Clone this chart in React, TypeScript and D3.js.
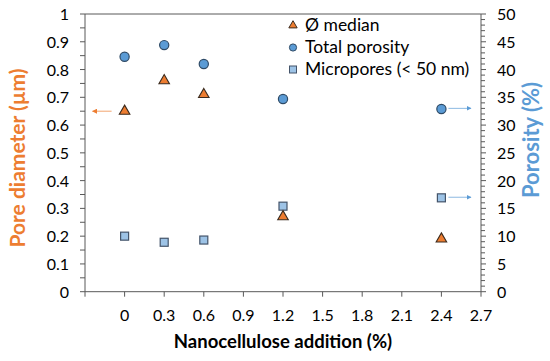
import React from "react";
import * as d3 from "d3";

const xValues = [0, 0.3, 0.6, 1.2, 2.4];
const medianDiameter = [0.65, 0.76, 0.71, 0.27, 0.19];
const totalPorosity = [42.3, 44.4, 41.0, 34.7, 32.9];
const micropores = [10.0, 8.9, 9.3, 15.4, 16.9];
const xTicks = [-0.3, 0, 0.3, 0.6, 0.9, 1.2, 1.5, 1.8, 2.1, 2.4, 2.7];
const leftTicks = d3.range(0, 1.0001, 0.1);
const leftMinor = d3.range(0, 1.0001, 0.05);
const rightTicks = d3.range(0, 50.001, 5);
const rightMinor = d3.range(0, 50.001, 1);
const legendLabels = ["Ø median", "Total porosity", "Micropores (< 50 nm)"];

const W = 550, H = 361;
const L = 85, R = 481, T = 14, B = 291.7;
const FONT = "Lato, 'Open Sans', sans-serif";
const ORANGE = "#ED7D31";
const BLUE = "#5B9BD5";
const LIGHTBLUE = "#9DC3E6";

export default function App() {
  const x = d3.scaleLinear().domain([-0.3, 2.7]).range([L, R]);
  const yL = d3.scaleLinear().domain([0, 1]).range([B, T]);
  const yR = d3.scaleLinear().domain([0, 50]).range([B, T]);
  const tri = d3.symbol().type(d3.symbolTriangle).size(48)() as string;
  const fmt = (v: number) => (Math.round(v * 10) / 10).toString();

  return (
    <svg width={W} height={H} style={{ position: "absolute", left: 0, top: 0, background: "#fff" }} fontFamily={FONT}>
      <rect width={W} height={H} fill="#fff" />
      {/* frame */}
      <line x1={L} x2={R} y1={T} y2={T} stroke="#595959" strokeWidth={1} />
      <line x1={L} x2={R} y1={B} y2={B} stroke="#595959" strokeWidth={1} />
      <line x1={L} x2={L} y1={T} y2={B} stroke="#595959" strokeWidth={1} />
      <line x1={R} x2={R} y1={T} y2={B} stroke="#595959" strokeWidth={1} />
      {/* x ticks */}
      {xTicks.map((t, i) => (
        <g key={"x" + i}>
          <line x1={x(t)} x2={x(t)} y1={B} y2={B + 5} stroke="#595959" />
          {t >= 0 && (
            <text x={x(t)} y={320.5} textAnchor="middle" fontSize={16} fill="#000">{fmt(t)}</text>
          )}
        </g>
      ))}
      {/* left ticks */}
      {leftMinor.map((t, i) => (
        <line key={"lm" + i} x1={L - 5} x2={L} y1={yL(t)} y2={yL(t)} stroke="#595959" />
      ))}
      {leftTicks.map((t, i) => (
        <text key={"lt" + i} x={69} y={yL(t) + 6} textAnchor="end" fontSize={16} fill="#000">{fmt(t)}</text>
      ))}
      {/* right ticks */}
      {rightMinor.map((t, i) => (
        <line key={"rm" + i} x1={R} x2={R + (t % 5 === 0 ? 5 : 4)} y1={yR(t)} y2={yR(t)} stroke="#595959" />
      ))}
      {rightTicks.map((t, i) => (
        <text key={"rt" + i} x={497} y={yR(t) + 6} textAnchor="start" fontSize={16} fill="#000">{t}</text>
      ))}
      {/* axis titles */}
      <text x={283} y={348} textAnchor="middle" fontSize={18.5} fontWeight="bold" fill="#000">Nanocellulose addition (%)</text>
      <text transform={`translate(25,158) rotate(-90)`} textAnchor="middle" fontSize={21} fontWeight="bold" fill={ORANGE}>Pore diameter (µm)</text>
      <text transform={`translate(539,140) rotate(-90)`} textAnchor="middle" fontSize={22} fontWeight="bold" fill={BLUE}>Porosity (%)</text>
      {/* arrows */}
      <defs>
        <marker id="ahO" viewBox="0 0 10 10" refX="9" refY="5" markerWidth="5" markerHeight="5" orient="auto">
          <path d="M0,0 L10,5 L0,10 z" fill={ORANGE} />
        </marker>
        <marker id="ahB" viewBox="0 0 10 10" refX="9" refY="5" markerWidth="5" markerHeight="5" orient="auto">
          <path d="M0,0 L10,5 L0,10 z" fill={BLUE} />
        </marker>
      </defs>
      <line x1={x(0) - 13} x2={x(-0.3) + 7.5} y1={yL(medianDiameter[0])} y2={yL(medianDiameter[0])} stroke={ORANGE} strokeOpacity={0.7} strokeWidth={1} markerEnd="url(#ahO)" />
      <line x1={x(2.4) + 7} x2={R - 10} y1={yR(totalPorosity[4]) - 0.6} y2={yR(totalPorosity[4]) - 0.6} stroke={BLUE} strokeOpacity={0.7} strokeWidth={1} markerEnd="url(#ahB)" />
      <line x1={x(2.4) + 7} x2={R - 10} y1={yR(micropores[4]) - 0.6} y2={yR(micropores[4]) - 0.6} stroke={BLUE} strokeOpacity={0.7} strokeWidth={1} markerEnd="url(#ahB)" />
      {/* data */}
      {xValues.map((v, i) => (
        <rect key={"s" + i} x={x(v) - 4} y={yR(micropores[i]) - 4} width={8} height={8} fill={LIGHTBLUE} stroke="#44546A" strokeWidth={1.2} />
      ))}
      {xValues.map((v, i) => (
        <circle key={"c" + i} cx={x(v)} cy={yR(totalPorosity[i])} r={4.6} fill={BLUE} stroke="#2E4A66" strokeWidth={1.2} />
      ))}
      {xValues.map((v, i) => (
        <path key={"t" + i} d={tri} transform={`translate(${x(v)},${yL(medianDiameter[i])})`} fill={ORANGE} stroke="#3B2B1E" strokeWidth={1.1} />
      ))}
      {/* legend */}
      <path d={d3.symbol().type(d3.symbolTriangle).size(30)() as string} transform="translate(293,25.5)" fill={ORANGE} stroke="#3B2B1E" strokeWidth={1} />
      <circle cx={293} cy={47.5} r={3.6} fill={BLUE} stroke="#2E4A66" strokeWidth={1} />
      <rect x={289.5} y={66} width={7} height={7} fill={LIGHTBLUE} stroke="#44546A" strokeWidth={1} />
      {legendLabels.map((s, i) => (
        <text key={"lg" + i} x={305} y={31 + i * 22} fontSize={17.5} fill="#000">{s}</text>
      ))}
    </svg>
  );
}
